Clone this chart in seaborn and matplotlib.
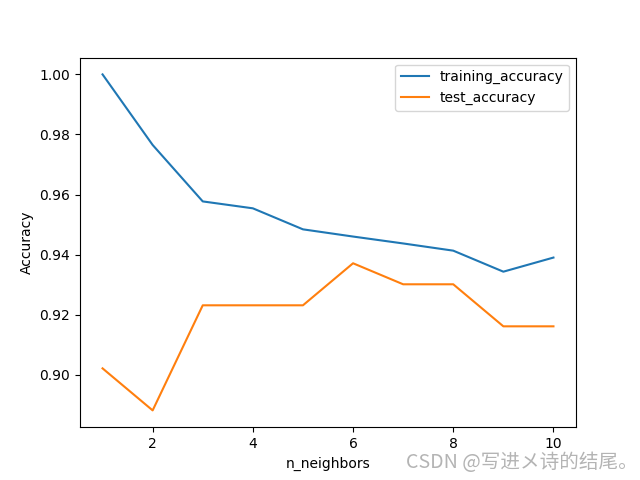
import matplotlib
matplotlib.use("Agg")
import matplotlib.pyplot as plt
import seaborn as sns
import pandas as pd

n_neighbors = [1, 2, 3, 4, 5, 6, 7, 8, 9, 10]
training_accuracy = [1.0, 0.9765, 0.9577, 0.9554, 0.9484, 0.9460, 0.9437, 0.9413, 0.9343, 0.9390]
test_accuracy = [0.9021, 0.8881, 0.9231, 0.9231, 0.9231, 0.9371, 0.9301, 0.9301, 0.9161, 0.9161]

df = pd.DataFrame({"n_neighbors": n_neighbors * 2,
                   "Accuracy": training_accuracy + test_accuracy,
                   "series": ["training_accuracy"] * 10 + ["test_accuracy"] * 10})

fig, ax = plt.subplots(figsize=(6.4, 4.8), dpi=100)
sns.lineplot(data=df, x="n_neighbors", y="Accuracy", hue="series",
             palette=["#1f77b4", "#ff7f0e"], ax=ax)
ax.legend(loc="upper right")
ax.set_xticks([2, 4, 6, 8, 10])
ax.set_xlabel("n_neighbors")
ax.set_ylabel("Accuracy")
fig.text(0.996, 0.036, "CSDN @写进メ诗的结尾。", ha="right", va="center",
         fontsize=14.1, color="#b4b4b4",
         family=["Noto Sans CJK SC", "DejaVu Sans"])
fig.savefig("out.png", dpi=100)
